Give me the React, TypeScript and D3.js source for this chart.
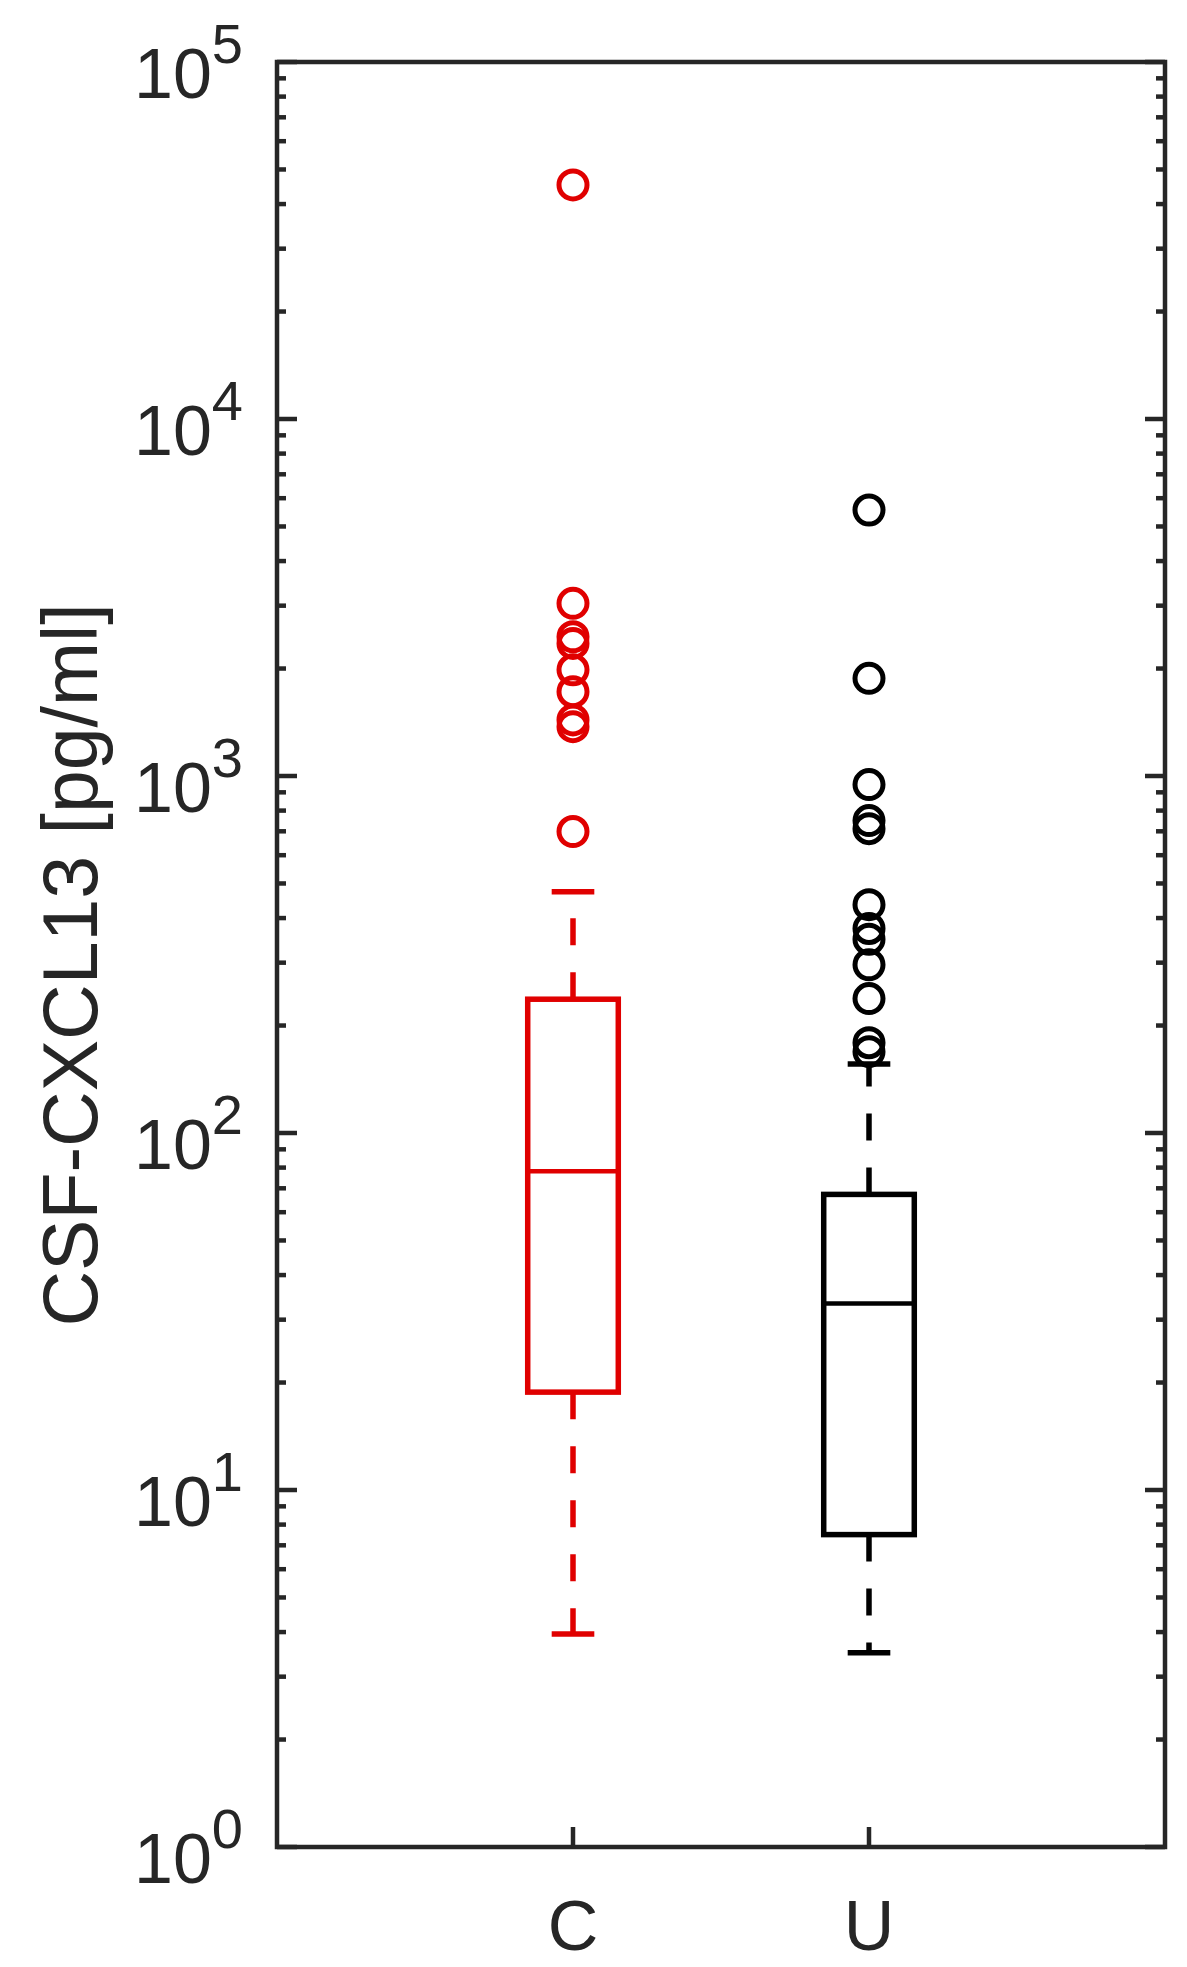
import React from "react";
import * as d3 from "d3";

const categories = ["C", "U"];
const boxColors = ["#e00000", "#000000"];
const q1Values = [18.8, 7.5];
const medianValues = [78.1, 33.3];
const q3Values = [237, 67.3];
const whiskerLow = [3.95, 3.5];
const whiskerHigh = [474, 156];
const outliersC = [45250, 3045, 2455, 2352, 1984, 1722, 1436, 1375, 699];
const outliersU = [5560, 1877, 946, 750, 712, 436, 374, 349, 296, 238, 179, 169];
const outlierSets = [outliersC, outliersU];
const yTickExponents = [0, 1, 2, 3, 4, 5];
const yLabel = "CSF-CXCL13 [pg/ml]";

const W = 1187;
const H = 1967;
const left = 277;
const right = 1165;
const top = 62;
const bottom = 1847;
const axisColor = "#262626";
const font = "'Liberation Sans', Arial, Helvetica, sans-serif";

export default function App() {
  const x = d3.scaleLinear().domain([0, 3]).range([left, right]);
  const y = d3.scaleLog().domain([1, 1e5]).range([bottom, top]);

  const boxHalf = 0.153;
  const capHalf = 0.072;
  const minorTicks: number[] = [];
  for (let e = 0; e < 5; e++) {
    for (let m = 2; m <= 9; m++) minorTicks.push(m * Math.pow(10, e));
  }

  return (
    <svg
      width={W}
      height={H}
      style={{ position: "absolute", left: 0, top: 0, background: "#fff" }}
    >
      <rect x={0} y={0} width={W} height={H} fill="#fff" />
      {minorTicks.map((v, i) => (
        <g key={"mn" + i}>
          <line x1={left} x2={left + 9} y1={y(v)} y2={y(v)} stroke={axisColor} strokeWidth={4.5} />
          <line x1={right} x2={right - 9} y1={y(v)} y2={y(v)} stroke={axisColor} strokeWidth={4.5} />
        </g>
      ))}
      {yTickExponents.map((e) => {
        const yy = y(Math.pow(10, e));
        return (
          <g key={"mj" + e}>
            <line x1={left} x2={left + 20} y1={yy} y2={yy} stroke={axisColor} strokeWidth={4.5} />
            <line x1={right} x2={right - 20} y1={yy} y2={yy} stroke={axisColor} strokeWidth={4.5} />
            <text
              x={243}
              y={yy + 36}
              textAnchor="end"
              fontFamily={font}
              fontSize={70}
              fill={axisColor}
            >
              10
              <tspan fontSize={56} dy={-35}>
                {e}
              </tspan>
            </text>
          </g>
        );
      })}
      {categories.map((c, i) => (
        <g key={"xt" + c}>
          <line x1={x(i + 1)} x2={x(i + 1)} y1={bottom} y2={bottom - 20} stroke={axisColor} strokeWidth={4.5} />
          <text
            x={x(i + 1)}
            y={1950}
            textAnchor="middle"
            fontFamily={font}
            fontSize={70}
            fill={axisColor}
          >
            {c}
          </text>
        </g>
      ))}
      {categories.map((c, i) => {
        const cx = x(i + 1);
        const bl = x(i + 1 - boxHalf);
        const br = x(i + 1 + boxHalf);
        const cl = x(i + 1 - capHalf);
        const cr = x(i + 1 + capHalf);
        const col = boxColors[i];
        return (
          <g key={"box" + c} stroke={col} fill="none" strokeWidth={5.5}>
            <line x1={cx} x2={cx} y1={y(q3Values[i])} y2={y(whiskerHigh[i])} strokeDasharray="27 27" />
            <line x1={cx} x2={cx} y1={y(q1Values[i])} y2={y(whiskerLow[i])} strokeDasharray="27 27" />
            <line x1={cl} x2={cr} y1={y(whiskerHigh[i])} y2={y(whiskerHigh[i])} />
            <line x1={cl} x2={cr} y1={y(whiskerLow[i])} y2={y(whiskerLow[i])} />
            <rect
              x={bl}
              y={y(q3Values[i])}
              width={br - bl}
              height={y(q1Values[i]) - y(q3Values[i])}
            />
            <line x1={bl} x2={br} y1={y(medianValues[i])} y2={y(medianValues[i])} strokeWidth={4.5} />
            {outlierSets[i].map((v, k) => (
              <circle key={k} cx={cx} cy={y(v)} r={14} strokeWidth={5} />
            ))}
          </g>
        );
      })}
      <rect
        x={left}
        y={top}
        width={right - left}
        height={bottom - top}
        fill="none"
        stroke={axisColor}
        strokeWidth={4.5}
      />
      <text
        transform={`translate(97, 965) rotate(-90)`}
        textAnchor="middle"
        fontFamily={font}
        fontSize={77}
        fill={axisColor}
      >
        {yLabel}
      </text>
    </svg>
  );
}
